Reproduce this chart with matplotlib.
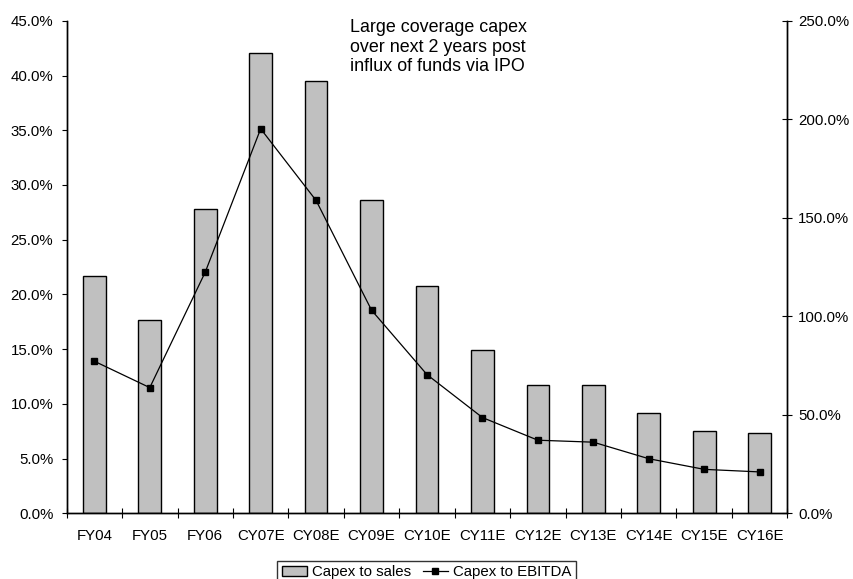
import numpy as np
from matplotlib import pyplot as plt
import matplotlib as mpl
from matplotlib.ticker import FuncFormatter

# data
categories = ['FY04', 'FY05', 'FY06', 'CY07E', 'CY08E', 'CY09E', 'CY10E',
              'CY11E', 'CY12E', 'CY13E', 'CY14E', 'CY15E', 'CY16E']
capex_to_sales = [21.7, 17.7, 27.8, 42.1, 39.5, 28.6, 20.8,
                  14.9, 11.7, 11.7, 9.2, 7.55, 7.3]
capex_to_ebitda = [77.2, 63.8, 122.4, 195.2, 158.8, 103.1, 70.4,
                   48.6, 37.1, 36.1, 27.7, 22.3, 21.0]
note = 'Large coverage capex\nover next 2 years post\ninflux of funds via IPO'


def set_mpl():
    mpl.rcParams.update({
        'font.family': ['Liberation Sans', 'DejaVu Sans'],
        'font.size': 10.8,
        'axes.linewidth': 1.0,
        'xtick.labelsize': 10.8,
        'ytick.labelsize': 10.8,
    })


def pct(v, pos):
    return '%.1f%%' % v


def plot_capex():
    set_mpl()
    fig = plt.figure(figsize=(8.54, 5.79), dpi=100)
    ax1 = fig.add_axes([0.078, 0.1135, 0.844, 0.8505])
    ax2 = ax1.twinx()

    x = np.arange(len(categories))
    bars = ax1.bar(x, capex_to_sales, width=0.41, color='#c0c0c0',
                   edgecolor='black', linewidth=1.0, zorder=2)
    line, = ax2.plot(x, capex_to_ebitda, color='black', linewidth=0.9,
                     marker='s', markersize=5, zorder=3)

    ax1.set_xlim(-0.5, len(categories) - 0.5)
    ax1.set_ylim(0, 45)
    ax1.set_yticks(np.arange(0, 46, 5))
    ax1.yaxis.set_major_formatter(FuncFormatter(pct))
    ax2.set_ylim(0, 250)
    ax2.set_yticks(np.arange(0, 251, 50))
    ax2.yaxis.set_major_formatter(FuncFormatter(pct))

    # boundaries get the tick marks, centres get the labels
    ax1.set_xticks(np.arange(-0.5, len(categories)), [''] * (len(categories) + 1))
    ax1.set_xticks(x, categories, minor=True)
    ax1.tick_params(axis='x', which='major', direction='inout', length=7.2, width=0.8)
    ax1.tick_params(axis='x', which='minor', length=0, pad=11)
    ax1.tick_params(axis='y', direction='out', length=3.6, width=0.8, pad=6)
    ax2.tick_params(axis='y', direction='inout', length=7.2, width=0.8, pad=4)

    for ax in (ax1, ax2):
        ax.spines['top'].set_visible(False)

    ax1.text(350 / 854, 1 - 19 / 579, note, transform=fig.transFigure,
             fontsize=12.9, ha='left', va='top', linespacing=1.2)

    leg = fig.legend([bars, line], ['Capex to sales', 'Capex to EBITDA'],
                     loc='upper center', bbox_to_anchor=(426.3 / 854, 1 - 560.7 / 579),
                     ncol=2, frameon=True, fancybox=False, borderaxespad=0,
                     handlelength=1.7, handletextpad=0.3, columnspacing=0.8,
                     borderpad=0.3, fontsize=10.8)
    leg.get_frame().set_edgecolor('black')
    leg.get_frame().set_linewidth(1.0)

    fig.savefig('out.png', dpi=100)


if __name__ == "__main__":
    plot_capex()
